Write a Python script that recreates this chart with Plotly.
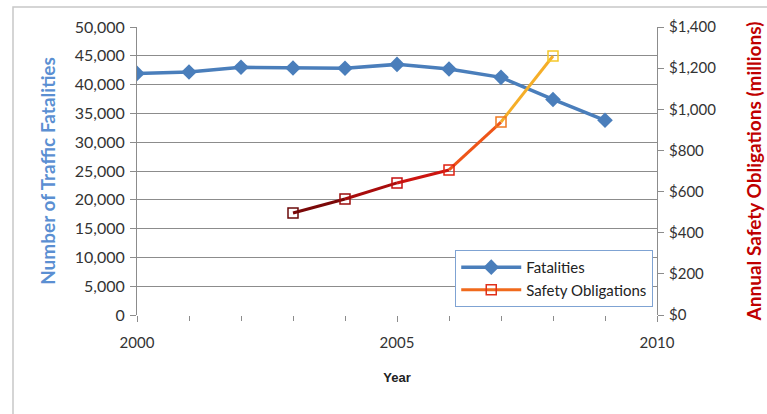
import plotly.graph_objects as go

years = [2000, 2001, 2002, 2003, 2004, 2005, 2006, 2007, 2008, 2009]
fatalities = [41945, 42196, 43005, 42884, 42836, 43510, 42708, 41259, 37423, 33808]

safety_years = [2003, 2004, 2005, 2006, 2007, 2008]
safety_obligations = [496, 564, 642, 705, 938, 1259]
safety_colors = ["#6b0a0a", "#9a0d0d", "#c41010", "#e02010", "#f07a20", "#f5c82a"]
segment_colors = ["#7a0808", "#a80c0c", "#cc1410", "#ee5518", "#f5ae28"]

blue = "#4a7ebb"
font_family = "Lato, Open Sans, sans-serif"

fig = go.Figure()

fig.add_trace(go.Scatter(
    x=years, y=fatalities, name="Fatalities", mode="lines+markers",
    line=dict(color=blue, width=3.5),
    marker=dict(symbol="diamond", size=12, color=blue),
    yaxis="y",
))

for i in range(len(safety_years) - 1):
    fig.add_trace(go.Scatter(
        x=safety_years[i:i + 2], y=safety_obligations[i:i + 2], mode="lines",
        line=dict(color=segment_colors[i], width=3),
        showlegend=False, hoverinfo="skip", yaxis="y2",
    ))

fig.add_trace(go.Scatter(
    x=safety_years, y=safety_obligations, name="Safety Obligations", mode="markers",
    marker=dict(symbol="square-open", size=10, color=safety_colors, line=dict(width=1.5)),
    showlegend=False, yaxis="y2",
))

# legend entry only
fig.add_trace(go.Scatter(
    x=[None], y=[None], name="Safety Obligations", mode="lines+markers",
    line=dict(color="#f06a1c", width=3),
    marker=dict(symbol="square-open", size=10, color="#e0301a", line=dict(width=1.5)),
    yaxis="y2",
))

fig.update_layout(
    width=767, height=414,
    margin=dict(l=137, r=110, t=27, b=99),
    paper_bgcolor="white",
    plot_bgcolor="rgba(0,0,0,0)",
    font=dict(family=font_family, size=15, color="#333333"),
    showlegend=True,
    legend=dict(
        x=0.612, y=0.226, xanchor="left", yanchor="top",
        bgcolor="white", bordercolor="#7fa3d3", borderwidth=1,
        font=dict(size=15, color="#222222"),
        itemwidth=60, tracegroupgap=2,
    ),
    xaxis=dict(
        range=[2000, 2010], tickmode="array", tickvals=[2000, 2005, 2010],
        ticktext=["2000", "2005", "2010"],
        showgrid=False, zeroline=False, showline=False,
        ticks="outside", ticklen=6, tickcolor="#8c8c8c",
        minor=dict(dtick=1, ticks="outside", ticklen=5, tickcolor="#8c8c8c"),
        ticklabelstandoff=8, automargin=False,
        title=dict(text="<b>Year</b>", font=dict(family="Liberation Sans, Arial", size=13, color="#222222"), standoff=22),
        tickfont=dict(size=15, color="#333333"),
    ),
    yaxis=dict(
        range=[0, 50000], dtick=5000, tickformat=",",
        showgrid=True, gridcolor="#8c8c8c", gridwidth=1,
        zeroline=False, showline=True, linecolor="#8c8c8c", linewidth=1,
        ticks="outside", ticklen=6, tickcolor="#8c8c8c",
        ticklabelstandoff=2, automargin=False,
        title=dict(text="<b>Number of Traffic Fatalities</b>", font=dict(size=19, color="#5b8fd2"), standoff=14),
        tickfont=dict(size=16, color="#333333"),
    ),
    yaxis2=dict(
        range=[0, 1400], dtick=200, tickprefix="$", tickformat=",",
        overlaying="y", side="right",
        showgrid=False, zeroline=False, showline=True, linecolor="#8c8c8c", linewidth=1,
        ticks="outside", ticklen=6, tickcolor="#8c8c8c",
        ticklabelstandoff=2, automargin=False,
        title=dict(text="<b>Annual Safety Obligations (millions)</b>", font=dict(size=19, color="#c00000"), standoff=32),
        tickfont=dict(size=15, color="#333333"),
    ),
    shapes=[dict(
        type="rect", xref="paper", yref="paper",
        x0=-124 / 520, x1=(767 - 137 + 20) / 520, y0=-120 / 288, y1=(315 - 7) / 288,
        line=dict(color="#c8c8c8", width=1.5), fillcolor="rgba(0,0,0,0)", layer="below",
    )],
)

fig.write_html("out.html")
